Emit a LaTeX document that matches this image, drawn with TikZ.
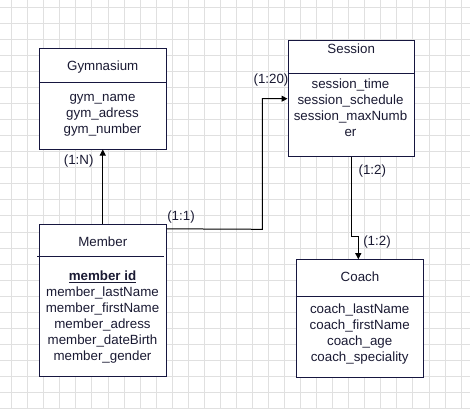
\documentclass[tikz,border=0pt]{standalone}
\usepackage{fontspec}
\setmainfont{Liberation Sans}
\usetikzlibrary{arrows.meta,calc}
\definecolor{gridc}{HTML}{E0E0E0}
\definecolor{boxc}{HTML}{16163F}
\definecolor{txtc}{HTML}{1A1A33}
\begin{document}
\begin{tikzpicture}[x=0.75pt,y=-0.75pt,
  every node/.style={font=\fontsize{10}{12}\selectfont, text=txtc, inner sep=0pt},
  entity/.style={draw=boxc, line width=0.75pt, fill=white, rectangle},
  title/.style={text height=7.3pt, text depth=2.1pt},
  attrs/.style={align=center},
  card/.style={text height=7.3pt, text depth=2.1pt},
  conn/.style={draw=black, line width=0.75pt},
  arr/.style={conn, -{Triangle[length=4.5pt,width=4.5pt]}}]
\useasboundingbox (0,0) rectangle (470,408);
\fill[white] (0,0) rectangle (470,408);
% grid
\foreach \k in {0,...,28} {\draw[gridc, line width=0.75pt] ({11.7+16.05*\k},0) -- ({11.7+16.05*\k},408);}
\foreach \k in {0,...,25} {\draw[gridc, line width=0.75pt] (0,{7.3+16.05*\k}) -- (470,{7.3+16.05*\k});}

% entities
\node[entity, minimum width=94.9pt, minimum height=75.75pt] (gym) at (102.75,98.5) {};
\node[entity, minimum width=94.7pt, minimum height=87pt] (session) at (351.15,98.7) {};
\node[entity, minimum width=94.9pt, minimum height=114.3pt] (member) at (102.75,300.5) {};
\node[entity, minimum width=94.95pt, minimum height=88pt] (coach) at (360,318.35) {};

% dividers
\draw[boxc, line width=0.75pt] (gym.west |- 0,82) -- (gym.east |- 0,82);
\draw[boxc, line width=0.75pt] (session.west |- 0,73.3) -- (session.east |- 0,73.3);
\draw[boxc, line width=0.75pt] (37.3,256.3) -- (164.3,256.3);
\draw[boxc, line width=0.75pt] (coach.west |- 0,296.7) -- (coach.east |- 0,296.7);

% titles
\node[title] (gymT) at (102.75,66.7) {Gymnasium};
\node[title] (sessionT) at (351.2,50) {Session};
\node[title] (memberT) at (102.75,242.7) {Member};
\node[title] (coachT) at (360,278.3) {Coach};

% attributes
\node[attrs] (gymA) at (102.5,115.35) {gym\_name\\gym\_adress\\gym\_number};
\node[attrs] (sessionA) at (350.5,107.3) {session\_time\\session\_schedule\\session\_maxNumb\\er};
\node[attrs] (memberA) at (102.5,316.8) {\underline{\textbf{member id}}\\member\_lastName\\member\_firstName\\member\_adress\\member\_dateBirth\\member\_gender};
\node[attrs] (coachA) at (359.7,333.8) {coach\_lastName\\coach\_firstName\\coach\_age\\coach\_speciality};

% connectors
\draw[arr] (member.north) -- (gym.south);
\coordinate (m1) at ($(member.north east)+(0,5)$);
\coordinate (b2) at (262.3,229.3);
\draw[arr] (m1) -- (b2) |- (session.west);
\coordinate (c3) at (358.3,236);
\draw[arr] (session.south) |- (c3) -- (c3 |- coach.north);

% cardinalities
\node[card] (l1) at (78.7,160.7) {(1:N)};
\node[card] (l2) at (181,216.7) {(1:1)};
\node[card] (l3) at (271,80) {(1:20)};
\node[card] (l4) at (372.3,170.7) {(1:2)};
\node[card] (l5) at (377,241.7) {(1:2)};
\end{tikzpicture}
\end{document}
